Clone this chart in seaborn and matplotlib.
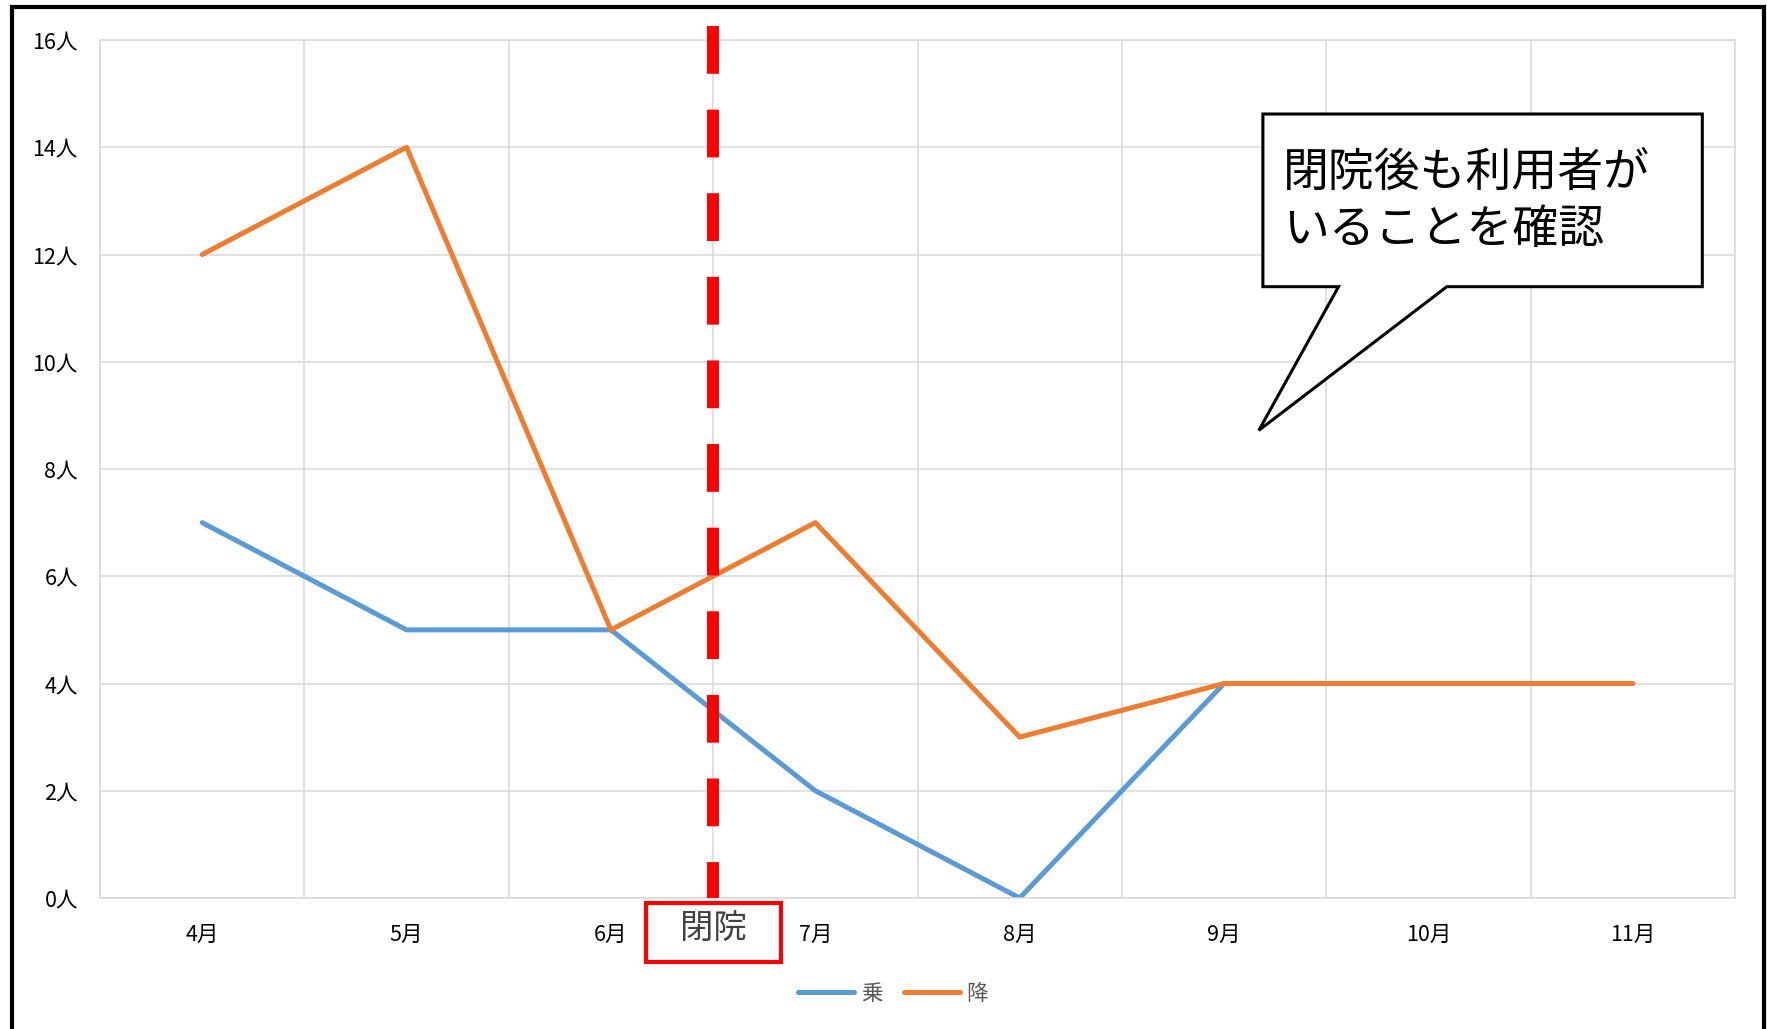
import pandas as pd
import numpy as np
import matplotlib.pyplot as plt
import seaborn as sns
from matplotlib.patches import Rectangle, Polygon

months = ['4月', '5月', '6月', '7月', '8月', '9月', '10月', '11月']
ride = [7, 5, 5, 2, 0, 4, 4, 4]      # 乗
alight = [12, 14, 5, 7, 3, 4, 4, 4]  # 降
yticks = [0, 2, 4, 6, 8, 10, 12, 14, 16]
series_names = ['乗', '降']
colors = ['#5B9BD5', '#ED7D31']
close_pos = 2.5  # between 6月 and 7月
close_label = '閉院'
note_lines = ['閉院後も利用者が', 'いることを確認']

df = pd.DataFrame({
    'month': months * 2,
    'value': ride + alight,
    'series': [series_names[0]] * len(months) + [series_names[1]] * len(months),
})

sns.set_theme(style='white')
plt.rcParams['font.family'] = ['Noto Sans CJK JP', 'DejaVu Sans']

fig = plt.figure(figsize=(17.67, 10.29), dpi=100)
ax = fig.add_axes([100/1767, 1-898/1029, 1635/1767, 858/1029])

sns.lineplot(data=df, x='month', y='value', hue='series', palette=colors,
             sort=False, linewidth=3.6, ax=ax, legend=False)

ax.set_xlim(-0.5, len(months) - 0.5)
ax.set_ylim(0, 16)
ax.set_yticks(yticks)
ax.set_yticklabels([f'{v}人' for v in yticks])
ax.set_xticks(range(len(months)))
ax.set_xticklabels(months)
ax.set_xticks(np.arange(-0.5, len(months), 1), minor=True)
ax.set_xlabel('')
ax.set_ylabel('')
ax.grid(False)
ax.grid(axis='y', which='major', color='#D9D9D9', linewidth=1.1)
ax.grid(axis='x', which='minor', color='#D9D9D9', linewidth=1.1)
for s in ax.spines.values():
    s.set_color('#D9D9D9')
    s.set_linewidth(1.1)
ax.tick_params(which='both', length=0)
ax.tick_params(axis='y', pad=16, labelsize=15.5, labelcolor='#000000')
ax.tick_params(axis='x', pad=19, labelsize=15.5, labelcolor='#000000')

# red dashed marker for closing
ax.plot([close_pos, close_pos], [16.27, 0], color='#FF0000', linewidth=8.6,
        linestyle=(0, (4, 3)), dash_capstyle='butt', solid_capstyle='butt',
        clip_on=False, zorder=5)
ax.add_patch(Rectangle((close_pos - 0.33, -1.19), 0.66, 1.1, facecolor='white',
                       edgecolor='#FF0000', linewidth=3, clip_on=False, zorder=6))
ax.text(close_pos, -0.56, close_label, ha='center', va='center', fontsize=24,
        color='#404040', zorder=7)

# speech bubble
x0, x1 = 5.19, 7.34
yb, yt = 11.4, 14.62
bubble = Polygon([(x0, yt), (x1, yt), (x1, yb), (6.09, yb), (5.17, 8.72),
                  (5.56, yb), (x0, yb)], closed=True, facecolor='white',
                 edgecolor='black', linewidth=2.2, zorder=7)
ax.add_patch(bubble)
ax.text(5.29, 13.52, note_lines[0], fontsize=33, color='black', va='center',
        ha='left', zorder=8)
ax.text(5.29, 12.47, note_lines[1], fontsize=33, color='black', va='center',
        ha='left', zorder=8)

# legend
handles = [plt.Line2D([], [], color=c, linewidth=3.6, solid_capstyle='round') for c in colors]
fig.legend(handles, series_names, loc='center', bbox_to_anchor=(893/1767, 1-994/1029),
           ncol=2, frameon=False, fontsize=15.5, handlelength=2.6, handletextpad=0.3,
           columnspacing=1.0, labelcolor='#595959')

# outer frame
fig.patches.append(Rectangle((12/1767, -0.05), 1752/1767, 1.05 - 7/1029,
                             transform=fig.transFigure, fill=False,
                             edgecolor='black', linewidth=3))

fig.savefig('out.png', dpi=100)
